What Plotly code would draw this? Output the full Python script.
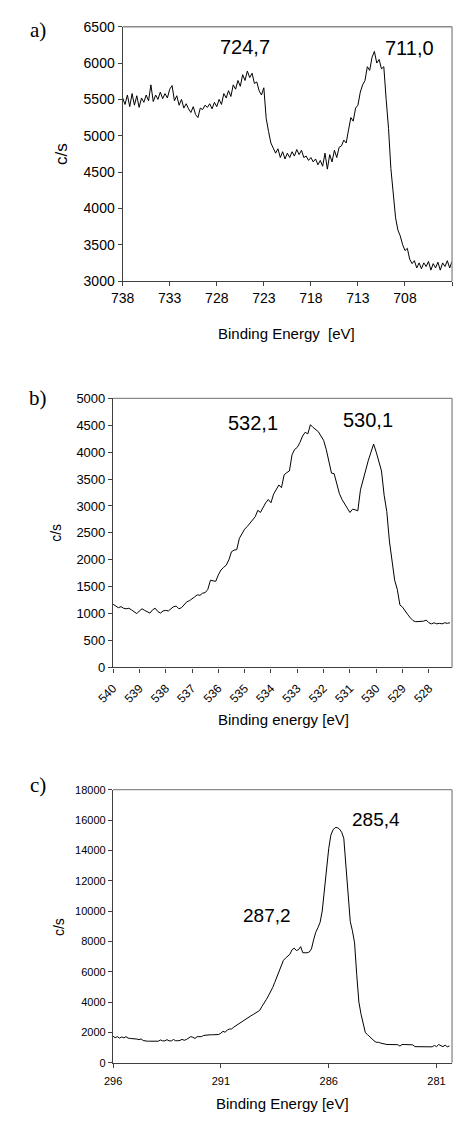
import numpy as np
import plotly.graph_objects as go

# ---------------- data ----------------
# Panel a: Fe 2p, 738.0 -> 703.0 eV, step 0.25 eV
fe_start, fe_step = 738.0, -0.25
fe_counts = [
    5520, 5430, 5560, 5400, 5580, 5420, 5550, 5390, 5520, 5460,
    5560, 5480, 5700, 5470, 5560, 5500, 5600, 5510, 5580, 5520,
    5640, 5690, 5480, 5550, 5420, 5500, 5380, 5440, 5370, 5320,
    5400, 5290, 5250, 5380, 5360, 5420, 5390, 5440, 5370, 5460,
    5400, 5500, 5430, 5580, 5520, 5620, 5540, 5700, 5640, 5760,
    5680, 5840, 5760, 5890, 5800, 5860, 5720, 5740, 5620, 5560,
    5660, 5240, 5060, 4900, 4830, 4760, 4820, 4700, 4780, 4680,
    4760, 4700, 4780, 4720, 4810, 4740, 4800, 4700, 4720, 4660,
    4700, 4640, 4680, 4600, 4660, 4580, 4760, 4540, 4740, 4640,
    4800, 4700, 4840, 4860, 4940, 4900, 5080, 5250, 5200, 5380,
    5420, 5600, 5700, 5760, 5950, 5900, 6080, 6160, 6000, 6050,
    5920, 5950, 5500, 5100, 4550, 4150, 3870, 3700, 3620, 3500,
    3420, 3450, 3300, 3240, 3280, 3180, 3250, 3170, 3250, 3200,
    3270, 3150, 3240, 3180, 3260, 3150, 3250, 3200, 3280, 3180,
    3270,
]
# Panel b: O 1s, 540.0 -> 527.2 eV, step 0.1 eV
o_start, o_step = 540.0, -0.1
o_counts = [
    1175, 1140, 1110, 1130, 1100, 1090, 1100, 1070, 1030, 1000,
    1050, 1090, 1060, 1030, 1010, 1070, 1100, 1040, 1010, 1050,
    1060, 1050, 1090, 1130, 1140, 1090, 1110, 1170, 1220, 1240,
    1270, 1310, 1350, 1340, 1380, 1390, 1450, 1620, 1610, 1600,
    1720, 1810, 1860, 1900, 2000, 2150, 2180, 2190, 2400, 2480,
    2570, 2620, 2690, 2740, 2800, 2920, 2880, 2980, 3060, 3120,
    3060, 3220, 3300, 3390, 3340, 3580, 3620, 3650, 3950, 4050,
    4090, 4180, 4300, 4370, 4340, 4510, 4460, 4420, 4380, 4300,
    4220, 4050, 3850, 3610, 3600, 3400, 3230, 3120, 3030, 2960,
    2880, 2940, 2930, 2910, 3300, 3500, 3680, 3850, 4000, 4150,
    4000, 3820, 3650, 3200, 2900, 2350, 1950, 1620, 1450, 1160,
    1120, 1040, 980, 920, 870, 850, 850, 850, 860, 880,
    830, 810, 830, 810, 820, 810, 830, 820, 830,
]
# Panel c: C 1s, 296.0 -> 280.3 eV, step 0.1 eV
c_start, c_step = 296.0, -0.1
c_counts = [
    1740, 1650, 1720, 1620, 1700, 1640, 1720, 1620, 1600, 1600,
    1590, 1560, 1520, 1570, 1460, 1420, 1420, 1420, 1420, 1430,
    1430, 1420, 1500, 1440, 1440, 1520, 1440, 1440, 1530, 1450,
    1450, 1470, 1540, 1480, 1530, 1620, 1720, 1680, 1600, 1720,
    1720, 1720, 1800, 1830, 1840, 1840, 1840, 1840, 1850, 1860,
    1950, 2070, 2010, 2160, 2220, 2230, 2350, 2450, 2500, 2650,
    2720, 2820, 2900, 3000, 3100, 3180, 3260, 3330, 3450, 3700,
    3900, 4150, 4400, 4650, 4950, 5300, 5650, 6000, 6400, 6750,
    6900, 7050, 7150, 7450, 7550, 7400, 7450, 7650, 7250, 7250,
    7250, 7300, 7500, 8100, 8600, 8900, 9250, 10000, 11500, 13000,
    14100, 15000, 15350, 15500, 15500, 15400, 15200, 14800, 13000, 11000,
    9300, 8700, 7900, 5800, 4000, 3200, 2500, 1980, 1850, 1700,
    1600, 1450, 1350, 1350, 1300, 1250, 1200, 1200, 1200, 1200,
    1200, 1200, 1190, 1100, 1200, 1200, 1200, 1200, 1200, 1180,
    1060, 1050, 1050, 1050, 1050, 1050, 1050, 1050, 1050, 1140,
    1060, 1200, 1120, 1060, 1160, 1050, 1100,
]

fe_ticks = [738, 733, 728, 723, 718, 713, 708, 703]
fe_ticktext = ["738", "733", "728", "723", "718", "713", "708", ""]
o_ticks = [540, 539, 538, 537, 536, 535, 534, 533, 532, 531, 530, 529, 528]
c_ticks = [296, 291, 286, 281]
fe_yticks = [3000, 3500, 4000, 4500, 5000, 5500, 6000, 6500]
o_yticks = [0, 500, 1000, 1500, 2000, 2500, 3000, 3500, 4000, 4500, 5000]
c_yticks = [0, 2000, 4000, 6000, 8000, 10000, 12000, 14000, 16000, 18000]

peak_labels = {
    "a": ["724,7", "711,0"],
    "b": ["532,1", "530,1"],
    "c": ["287,2", "285,4"],
}

def grid(start, step, n):
    return np.round(start + step * np.arange(n), 3)

fe_e = grid(fe_start, fe_step, len(fe_counts))
o_e = grid(o_start, o_step, len(o_counts))
c_e = grid(c_start, c_step, len(c_counts))

# ---------------- figure ----------------
W, H = 453, 1121
def px(x):
    return x / W
def py(y):
    return 1 - y / H

SANS = "Arial, Liberation Sans, sans-serif"
SERIF = "Times New Roman, Liberation Serif, serif"
AX = "#404040"
BOX = "#8a8a8a"

fig = go.Figure()
line = dict(color="black", width=1)
fig.add_trace(go.Scatter(x=fe_e, y=fe_counts, mode="lines", line=line, xaxis="x", yaxis="y"))
fig.add_trace(go.Scatter(x=o_e, y=o_counts, mode="lines", line=line, xaxis="x2", yaxis="y2"))
fig.add_trace(go.Scatter(x=c_e, y=c_counts, mode="lines", line=line, xaxis="x3", yaxis="y3"))

common = dict(showgrid=False, zeroline=False, showline=True, linecolor=AX, linewidth=1.3,
              ticks="outside", ticklen=4, tickcolor=AX, tickwidth=1.3)

fig.update_layout(
    width=W, height=H, autosize=False,
    margin=dict(l=0, r=0, t=0, b=0),
    paper_bgcolor="white", plot_bgcolor="white",
    showlegend=False,
    xaxis=dict(domain=[px(109), px(452)], anchor="y", range=[738, 703],
               tickvals=fe_ticks, ticktext=fe_ticktext,
               tickfont=dict(family=SANS, size=14, color="black"), **common),
    yaxis=dict(domain=[py(277), py(19)], anchor="x", range=[3000, 6500],
               tickvals=fe_yticks, tickformat="d",
               tickfont=dict(family=SANS, size=14, color="black"), **common),
    xaxis2=dict(domain=[px(99), px(452)], anchor="y2", range=[540, 527.12],
                tickvals=o_ticks, tickangle=-45, ticklabelstandoff=4,
                tickfont=dict(family=SANS, size=12, color="black"), **common),
    yaxis2=dict(domain=[py(669), py(396)], anchor="x2", range=[0, 5000],
                tickvals=o_yticks, tickformat="d",
                tickfont=dict(family=SANS, size=13, color="black"), **common),
    xaxis3=dict(domain=[px(99), px(452)], anchor="y3", range=[296, 280.28],
                tickvals=c_ticks, ticklabelstandoff=4,
                tickfont=dict(family=SANS, size=11, color="black"), **common),
    yaxis3=dict(domain=[py(1070), py(793)], anchor="x3", range=[0, 18000],
                tickvals=c_yticks, tickformat="d",
                tickfont=dict(family=SANS, size=11, color="black"), **common),
)

# light box on top/right of each plot area
for xr, yr in [("x", "y"), ("x2", "y2"), ("x3", "y3")]:
    fig.add_shape(type="line", xref=f"{xr} domain", yref=f"{yr} domain",
                  x0=0, x1=1, y0=1, y1=1, line=dict(color=BOX, width=1.3))
    fig.add_shape(type="line", xref=f"{xr} domain", yref=f"{yr} domain",
                  x0=1, x1=1, y0=0, y1=1, line=dict(color=BOX, width=1.3))

def note(text, x, y, size, family=SANS, angle=0):
    fig.add_annotation(text=text, x=px(x), y=py(y), xref="paper", yref="paper",
                       showarrow=False, textangle=angle,
                       font=dict(family=family, size=size, color="black"),
                       xanchor="center", yanchor="middle")

# panel letters
note("a)", 21, 22, 21, SERIF)
note("b)", 21, 396, 21, SERIF)
note("c)", 21, 788, 21, SERIF)

# peak labels
note(peak_labels["a"][0], 236, 40, 20)
note(peak_labels["a"][1], 408, 41, 20)
note(peak_labels["b"][0], 245, 421, 20)
note(peak_labels["b"][1], 365, 418, 20)
note(peak_labels["c"][0], 259, 921, 19)
note(peak_labels["c"][1], 373, 823, 19)

# axis titles
note("c/s", 46, 148, 17, angle=-90)
note("c/s", 40, 532, 14, angle=-90)
note("c/s", 42, 932, 14, angle=-90)
note("Binding Energy  [eV]", 280, 330, 15)
note("Binding energy [eV]", 277, 722, 15)
note("Binding Energy [eV]", 275, 1111, 15)

fig.write_html("out.html")
